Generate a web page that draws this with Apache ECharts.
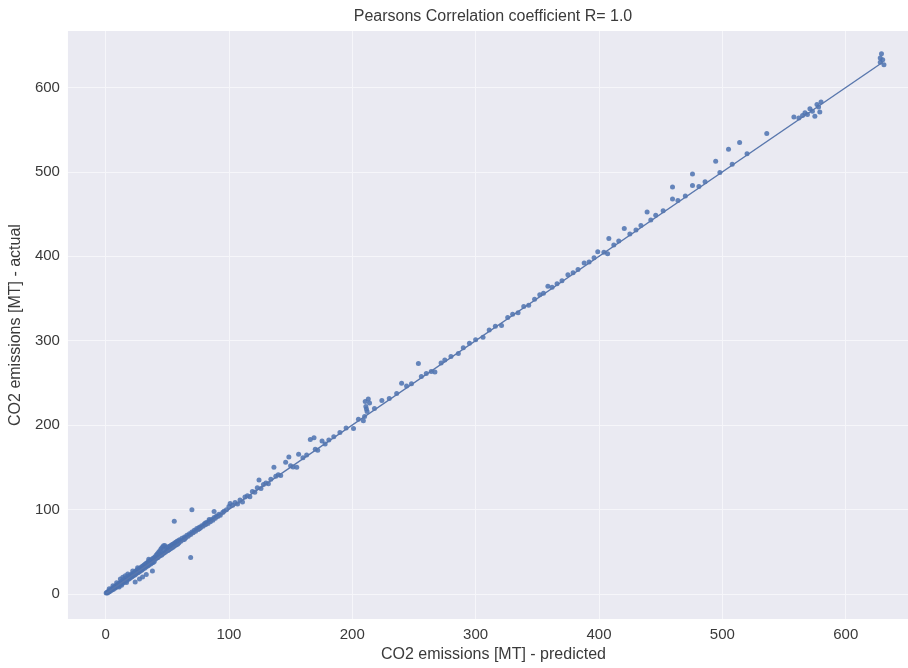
<!DOCTYPE html>
<html>
<head>
<meta charset="utf-8">
<script src="https://cdn.jsdelivr.net/npm/echarts@6/dist/echarts.min.js"></script>
<style>
html,body{margin:0;padding:0;background:#fff;}
#chart{width:908px;height:668px;}
</style>
</head>
<body>
<div id="chart"></div>
<script>
// ---- data: [predicted, actual] ----
const band0to20 = [[0.5,0.8],[1,1.5],[1.5,1],[2,2.8],[2.5,2],[3,3.5],[3.2,2.4],[4,4.6],[4.5,3.8],[5,5.9],[5.5,4.7],[6,6.8],[6.4,5.5],[7,7.9],[7.5,6.6],[8,9.1],[8.4,7.4],[9,10.2],[9.5,8.6],[10,11.4],
  [10.5,9.3],[11,12.6],[11.5,10.4],[12,13.5],[12.5,11.2],[13,14.8],[13.4,12.3],[14,15.6],[14.6,13.1],[15,17.2],[15.5,14.2],[16,18],[16.5,15.3],[17,19.1],[17.5,16.4],[18,20.3],[18.6,17.2],[19,21.5],[19.5,18.1],[20,22.4],
  [12,17.5],[14,19.6],[16,21.4],[18,23.5],[3,6],[6,9.5],[9,13],[11,8],[13,10],[17,13.5]];
const band20to60 = [[20.5,19.4],[21,23],[21.5,20.2],[22,24.1],[22.5,21.3],[23,25],[23.6,22.4],[24,26.3],[24.5,23.1],[25,27.5],[25.6,24.5],[26,28.4],[26.5,25.2],[27,29.6],[27.5,26.1],[28,30.4],[28.7,27.5],[29,31.8],[29.6,28.3],[30,32.5],
  [30.5,29.6],[31,33.8],[31.6,30.2],[32,34.9],[32.5,31.4],[33,36.1],[33.5,32.6],[34,37],[34.6,33.3],[35,38.2],[35.5,34.6],[36,39.4],[36.6,35.2],[37,40.1],[37.5,36.6],[38,41.5],[38.6,37.1],[39,42.3],[39.5,38.4],[40,43.6],
  [40.5,41.2],[41,45.8],[41.6,42.3],[42,47.5],[42.5,43.1],[43,49.2],[43.5,44.6],[44,51],[44.5,45.3],[45,53.4],[45.6,46.1],[46,55.2],[46.5,47.6],[47,56.8],[47.5,48.4],[48,57.3],[48.6,49.5],[49,55.1],[49.5,50.6],[50,54.2],
  [50.6,51.3],[51,55.8],[51.5,52.2],[52,56.3],[52.6,53.5],[53,57.1],[53.5,54.2],[54,58.4],[54.6,55.1],[55,59],[55.5,56.3],[56,60.2],[56.6,57.4],[57,61.1],[57.5,58.2],[58,62.3],[58.6,59.1],[59,63],[59.5,60.4],[60,64.1],
  [27.5,17.5],[33,23],[38,27],[24,14],[30,20],[22,27],[26,31],[35,41],[44,47],[47,52]];
const band60to100 = [[61,62.4],[62,65.8],[63,64.1],[64,67.2],[65,66.3],[66,69.4],[67,68.1],[68,71.2],[69,70.3],[70,73.1],[71,72.4],[72,75.3],[73,74.2],[74,77.5],[75,76.1],[76,78.9],[77,78.2],[78,80.6],[79,80.1],[80,82.7],
  [81,81.8],[82,84.5],[83,83.2],[84,86.3],[85,85.4],[86,88.1],[87,87.2],[88,90.5],[89,89.4],[90,92.3],[91,91.6],[92,94.2],[93,93.1],[95,96.4],[96,97.8],[98,99.5],
  [55.7,86],[70,99.5],[69,43],[88,97.5],[84,88],[64,64.5],[76,77],[81,84]];
const band100to250 = [[100,103.4],[101,107],[103,104.8],[105,108.2],[107,106.5],[109,111.3],[111,108.9],[113,114.6],[115,116.2],[117,115.1],[119,121.3],[121,120.4],[123,125.6],[124.4,135],[126,124.8],[128,129.5],[130,131.2],[132,130.4],[134,135.6],[136.5,150],
  [138,139.4],[140,141.1],[142,140.3],[146,156],[148.6,162],[150,151.6],[152,150.2],[155,150],[156.5,165.5],[160,161.2],[163,164.5],[166,183],[169,185],[170,171.4],[172,170.2],[175.5,181],[178,177.4],[181,182.3],[185,186],[190,191.2],
  [195,196.4],[201,195.8],[205,207],[209,205],[210.5,228],[211,222],[212,216],[213,231],[210,210],[211.5,219],[214,226],[218,219.5],[224,229],[230,231.4],[236,237.5],[240,249.6],[244,246.2],[248,249]];
const band250to450 = [[253.6,273],[256,257.5],[260,261.2],[264,263.4],[267,263],[272,273.6],[275,277],[280,281.2],[286,284.7],[290,291.5],[295,296.8],[300,301.2],[306,304],[311,312.5],[316,317.1],[321,318],[326,327.4],[330,331.2],[334.4,333],[339,340.5],
  [343,342.1],[347.8,349],[352,354.3],[355,356.1],[358.6,364.6],[362,363.4],[366,367.5],[370,371.1],[374.8,378],[379,380.4],[383,384.2],[388,392],[392,393.1],[396,398.4],[399,405.5],[404,404.8],[407,403],[408,421],[412,413.5],[416,418.1],
  [420.5,432.8],[425,426.4],[430,431.2],[434,436.5],[439,452.5],[442,443.1],[446,448.6]];
const band450to640 = [[452,454.1],[459.6,482],[459.6,468],[464,466.2],[470,471.5],[475.8,497.6],[475.8,484],[481,482.6],[486,488.3],[494.6,512.6],[498,499.4],[505,527],[508,509.2],[514,535],[520,521.4],[536,545.6],
  [558,565],[562,564],[565,567],[567,570],[569,568],[571,575],[573,572],[576.7,580],[578,577],[580,583],[575,566],[579,571],
  [628,635],[628,630],[629,640],[630,633],[631,627]];
const identityLine = [[0.5,0.5],[630,630]];
const tickValues = [0,100,200,300,400,500,600];

const points = [].concat(band0to20, band20to60, band60to100, band100to250, band250to450, band450to640);

const chart = echarts.init(document.getElementById('chart'), null, {renderer:'canvas'});
const FONT = '"Liberation Sans", Arial, sans-serif';
const axisCommon = {
  type:'value',
  axisLine:{show:false},
  axisTick:{show:false, customValues:tickValues},
  axisLabel:{customValues:tickValues, color:'#3a3a3a', fontSize:15, fontFamily:FONT},
  splitLine:{show:true, lineStyle:{color:'#F6F6FA', width:1}},
  nameLocation:'middle',
  nameTextStyle:{color:'#3a3a3a', fontSize:16, fontFamily:FONT}
};
chart.setOption({
  animation:false,
  backgroundColor:'#ffffff',
  graphic:[{type:'text', x:493, y:17, style:{text:'Pearsons Correlation coefficient R= 1.0', font:'16px "Liberation Sans", Arial, sans-serif', fill:'#3a3a3a', textAlign:'center', textVerticalAlign:'middle'}}],
  grid:{left:65, right:0, top:31, bottom:41, show:true, backgroundColor:'#EAEAF2', borderWidth:0, containLabel:false},
  xAxis:Object.assign({}, axisCommon, {
    min:-30.5, max:650.5,
    name:'CO2 emissions [MT] - predicted', nameGap:23,
    axisLabel:Object.assign({}, axisCommon.axisLabel, {margin:8}),
    nameTextStyle:Object.assign({}, axisCommon.nameTextStyle, {padding:[0,0,0,11]})
  }),
  yAxis:Object.assign({}, axisCommon, {
    min:-30, max:667,
    name:'CO2 emissions [MT] - actual', nameGap:40,
    axisLabel:Object.assign({}, axisCommon.axisLabel, {margin:8})
  }),
  series:[
    {type:'line', data:identityLine, symbol:'none', lineStyle:{color:'#5977AD', width:1.4}, z:3},
    {type:'scatter', data:points, symbolSize:5, itemStyle:{color:'#4C72B0', opacity:0.85}, z:2}
  ]
});
</script>
</body>
</html>
